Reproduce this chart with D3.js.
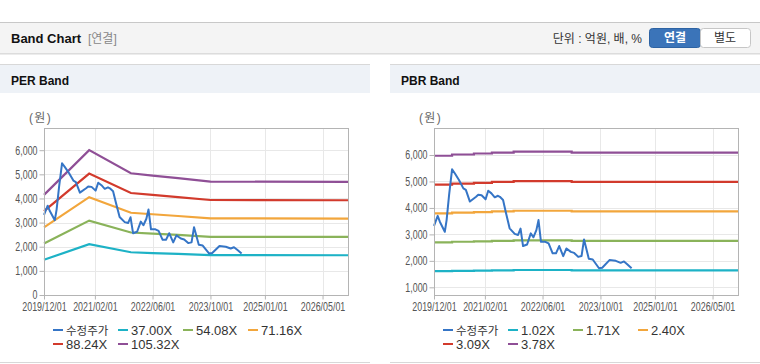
<!DOCTYPE html>
<html>
<head>
<meta charset="utf-8">
<script src="https://cdn.jsdelivr.net/npm/d3@7"></script>
<style>
  body { margin: 0; background: #fff; }
  svg { display: block; }
  text { font-family: "Liberation Sans", Arial, "Noto Sans CJK KR", sans-serif; }
</style>
</head>
<body>
<div id="chart"></div>
<script>
// 수정주가 (same series in both panels)
const priceDates = ["2019-12-01","2020-01-01","2020-01-19","2020-03-01","2020-03-16","2020-04-06","2020-05-01","2020-05-25",
  "2020-06-28","2020-08-04","2020-08-25","2020-09-28","2020-11-19","2020-12-07","2021-01-04","2021-02-07","2021-03-01",
  "2021-03-28","2021-04-25","2021-05-22","2021-06-07","2021-07-04","2021-07-28","2021-08-28","2021-10-10","2021-11-07",
  "2021-11-28","2021-12-19","2022-01-22","2022-02-22","2022-03-16","2022-04-10","2022-04-28","2022-05-19","2022-06-25",
  "2022-07-22","2022-08-25","2022-09-22","2022-10-19","2022-11-22","2022-12-19","2023-01-25","2023-02-22","2023-03-28",
  "2023-04-25","2023-05-16","2023-06-25","2023-07-28","2023-09-19","2023-10-16","2023-12-16","2024-02-07","2024-03-19",
  "2024-04-16","2024-05-13","2024-06-19"];
const priceValues = [3320,3700,3480,3100,3540,4490,5460,5300,
  5055,4740,4680,4240,4425,4500,4480,4325,4650,
  4550,4400,4460,4420,4300,3820,3230,3020,2980,
  3220,2560,2620,3040,2890,3160,3540,2720,2720,
  2660,2285,2285,2560,2180,2470,2340,2300,2150,
  2180,2810,2080,2050,1720,1740,2030,2000,1925,
  1980,1875,1720];

// PER band
const perDates = ["2019-12-01","2020-12-15","2021-12-01","2022-06-01","2023-01-01","2023-10-01","2026-12-01"];
const per37 = [1458,2109,1772,1739,1702,1650,1647];
const per54 = [2131,3083,2590,2542,2488,2412,2407];
const per71 = [2804,4056,3409,3345,3273,3174,3167];
const per88 = [3477,5030,4227,4147,4059,3936,3927];
const per105 = [4150,6003,5045,4950,4845,4697,4687];
const perLabels = ["37.00X","54.08X","71.16X","88.24X","105.32X"];

// PBR band (step lines)
const pbrDates = ["2019-12-01","2020-05-01","2020-11-01","2021-04-01","2021-10-01","2023-02-01","2026-12-01"];
const pbr102 = [1612,1624,1634,1644,1654,1644,1644];
const pbr171 = [2702,2722,2739,2757,2774,2757,2757];
const pbr240 = [3792,3821,3845,3869,3893,3869,3869];
const pbr309 = [4882,4919,4950,4981,5012,4981,4981];
const pbr378 = [5972,6018,6056,6093,6131,6093,6093];
const pbrLabels = ["1.02X","1.71X","2.40X","3.09X","3.78X"];

const xTickDates = ["2019-12-01","2021-02-01","2022-06-01","2023-10-01","2025-01-01","2026-05-01"];
const perYTicks = [0,1000,2000,3000,4000,5000,6000];
const pbrYTicks = [1000,2000,3000,4000,5000,6000];

const priceColor = "#3575c6";
const bandColors = ["#1db2c6", "#8ab35a", "#f2a63c", "#d23a2c", "#8f4f96"];

const parse = d3.timeParse("%Y-%m-%d");
const width = 760, height = 364;
const squeeze = 0.74; // tick labels are drawn in a narrow face

const svg = d3.select("#chart").append("svg")
  .attr("width", width).attr("height", height);

// ---- top header ----
svg.append("rect").attr("x", 0).attr("y", 22).attr("width", width).attr("height", 32)
  .attr("fill", "#f4f4f4");
svg.append("line").attr("x1", 0).attr("x2", width).attr("y1", 22.5).attr("y2", 22.5).attr("stroke", "#c8c8c8");
svg.append("line").attr("x1", 0).attr("x2", width).attr("y1", 53.5).attr("y2", 53.5).attr("stroke", "#dcdcdc");
svg.append("line").attr("x1", 0).attr("x2", width).attr("y1", 54.5).attr("y2", 54.5).attr("stroke", "#ececec");
svg.append("text").attr("x", 11).attr("y", 43).attr("font-size", 13).attr("font-weight", "bold")
  .attr("fill", "#111").text("Band Chart");
svg.append("text").attr("x", 88).attr("y", 43).attr("font-size", 12).attr("fill", "#888").text("[연결]");
svg.append("text").attr("x", 642).attr("y", 43).attr("font-size", 12).attr("fill", "#333")
  .attr("text-anchor", "end").text("단위 : 억원, 배, %");
svg.append("rect").attr("x", 649.5).attr("y", 28.5).attr("width", 51).attr("height", 19).attr("rx", 3)
  .attr("fill", "#3b74b9").attr("stroke", "#2e63a3");
svg.append("rect").attr("x", 700.5).attr("y", 28.5).attr("width", 50).attr("height", 19).attr("rx", 3)
  .attr("fill", "#fff").attr("stroke", "#c6c6c6");
svg.append("text").attr("x", 675).attr("y", 42).attr("font-size", 12).attr("font-weight", "bold")
  .attr("fill", "#fff").attr("text-anchor", "middle").text("연결");
svg.append("text").attr("x", 725).attr("y", 42).attr("font-size", 12)
  .attr("fill", "#333").attr("text-anchor", "middle").text("별도");

function drawBand(opts) {
  const g = svg.append("g").attr("transform", `translate(${opts.left},0)`);
  const pw = opts.panelWidth;
  const plot = { left: 44, right: 348, top: 128, bottom: 295 };

  // panel header
  g.append("rect").attr("x", 0).attr("y", 64).attr("width", pw).attr("height", 29).attr("fill", "#eef2f7");
  g.append("line").attr("x1", 0).attr("x2", pw).attr("y1", 64.5).attr("y2", 64.5).attr("stroke", "#d8d8d8");
  g.append("line").attr("x1", 0).attr("x2", pw).attr("y1", 362.5).attr("y2", 362.5).attr("stroke", "#d8d8d8");
  g.append("text").attr("x", 11).attr("y", 85).attr("font-size", 12).attr("font-weight", "bold")
    .attr("fill", "#111").text(opts.title);
  g.append("text").attr("x", 29).attr("y", 122).attr("font-size", 12).attr("fill", "#666").text("( 원 )")
    .attr("letter-spacing", -1);

  const x = d3.scaleTime()
    .domain([parse("2019-12-01"), parse("2026-12-01")])
    .range([plot.left, plot.right]);
  const y = d3.scaleLinear()
    .domain(opts.yDomain)
    .range([plot.bottom, plot.top]);

  // grid
  g.append("g").selectAll("line").data(opts.yTicks).join("line")
    .attr("x1", plot.left).attr("x2", plot.right)
    .attr("y1", d => Math.round(y(d)) + 0.5).attr("y2", d => Math.round(y(d)) + 0.5)
    .attr("stroke", "#e8e8e8");
  g.append("g").selectAll("line").data(xTickDates.map(parse)).join("line")
    .attr("x1", d => Math.round(x(d)) + 0.5).attr("x2", d => Math.round(x(d)) + 0.5)
    .attr("y1", plot.top).attr("y2", plot.bottom)
    .attr("stroke", "#e8e8e8");

  // bands
  const bandLine = d3.line()
    .x(d => x(d[0])).y(d => y(d[1]))
    .curve(opts.step ? d3.curveStepAfter : d3.curveLinear);
  const bandDates = opts.bandDates.map(parse);
  opts.bands.forEach((vals, i) => {
    g.append("path")
      .datum(vals.map((v, k) => [bandDates[k], v]))
      .attr("fill", "none").attr("stroke", bandColors[i]).attr("stroke-width", 2.2)
      .attr("d", bandLine);
  });

  // price
  const priceLine = d3.line().x(d => x(d[0])).y(d => y(d[1]));
  g.append("path")
    .datum(priceValues.map((v, k) => [parse(priceDates[k]), v]))
    .attr("fill", "none").attr("stroke", priceColor).attr("stroke-width", 2)
    .attr("stroke-linejoin", "round")
    .attr("d", priceLine);

  // frame
  g.append("rect").attr("x", plot.left + 0.5).attr("y", plot.top + 0.5)
    .attr("width", plot.right - plot.left).attr("height", plot.bottom - plot.top)
    .attr("fill", "none").attr("stroke", "#b4b4b4");

  // axes
  const axisY = g.append("g").attr("transform", `translate(${plot.left + 0.5},0)`)
    .call(d3.axisLeft(y).tickValues(opts.yTicks).tickFormat(d3.format(",")).tickSize(5).tickPadding(2));
  const axisX = g.append("g").attr("transform", `translate(0,${plot.bottom + 0.5})`)
    .call(d3.axisBottom(x).tickValues(xTickDates.map(parse)).tickFormat(d3.timeFormat("%Y/%m/%d"))
      .tickSize(4).tickPadding(3));
  [axisY, axisX].forEach(a => {
    a.select(".domain").remove();
    a.selectAll(".tick line").attr("stroke", "#b4b4b4");
    a.selectAll(".tick text").attr("fill", "#555").attr("font-size", 12)
      .attr("font-family", "'Liberation Sans', Arial, sans-serif")
      .attr("transform", `scale(${squeeze},1)`);
  });
  axisY.selectAll(".tick text").attr("x", -7 / squeeze);

  // legend
  const items = [{ label: "수정주가", color: priceColor, size: 11.5 }]
    .concat(opts.labels.map((l, i) => ({ label: l, color: bandColors[i], size: 13 })));
  const leg = g.append("g").selectAll("g").data(items).join("g")
    .attr("transform", (d, i) => `translate(${53 + (i % 4) * 65},${i < 4 ? 330 : 344})`);
  leg.append("line").attr("x1", 0).attr("x2", 10).attr("y1", 0).attr("y2", 0)
    .attr("stroke", d => d.color).attr("stroke-width", 2);
  leg.append("text").attr("x", 13).attr("y", 4.5).attr("font-size", d => d.size).attr("fill", "#333")
    .text(d => d.label);
}

drawBand({
  left: 0, panelWidth: 370, title: "PER Band",
  yDomain: [0, 6920], yTicks: perYTicks,
  bandDates: perDates, bands: [per37, per54, per71, per88, per105], labels: perLabels, step: false
});
drawBand({
  left: 390, panelWidth: 370, title: "PBR Band",
  yDomain: [710, 7020], yTicks: pbrYTicks,
  bandDates: pbrDates, bands: [pbr102, pbr171, pbr240, pbr309, pbr378], labels: pbrLabels, step: true
});
</script>
</body>
</html>
